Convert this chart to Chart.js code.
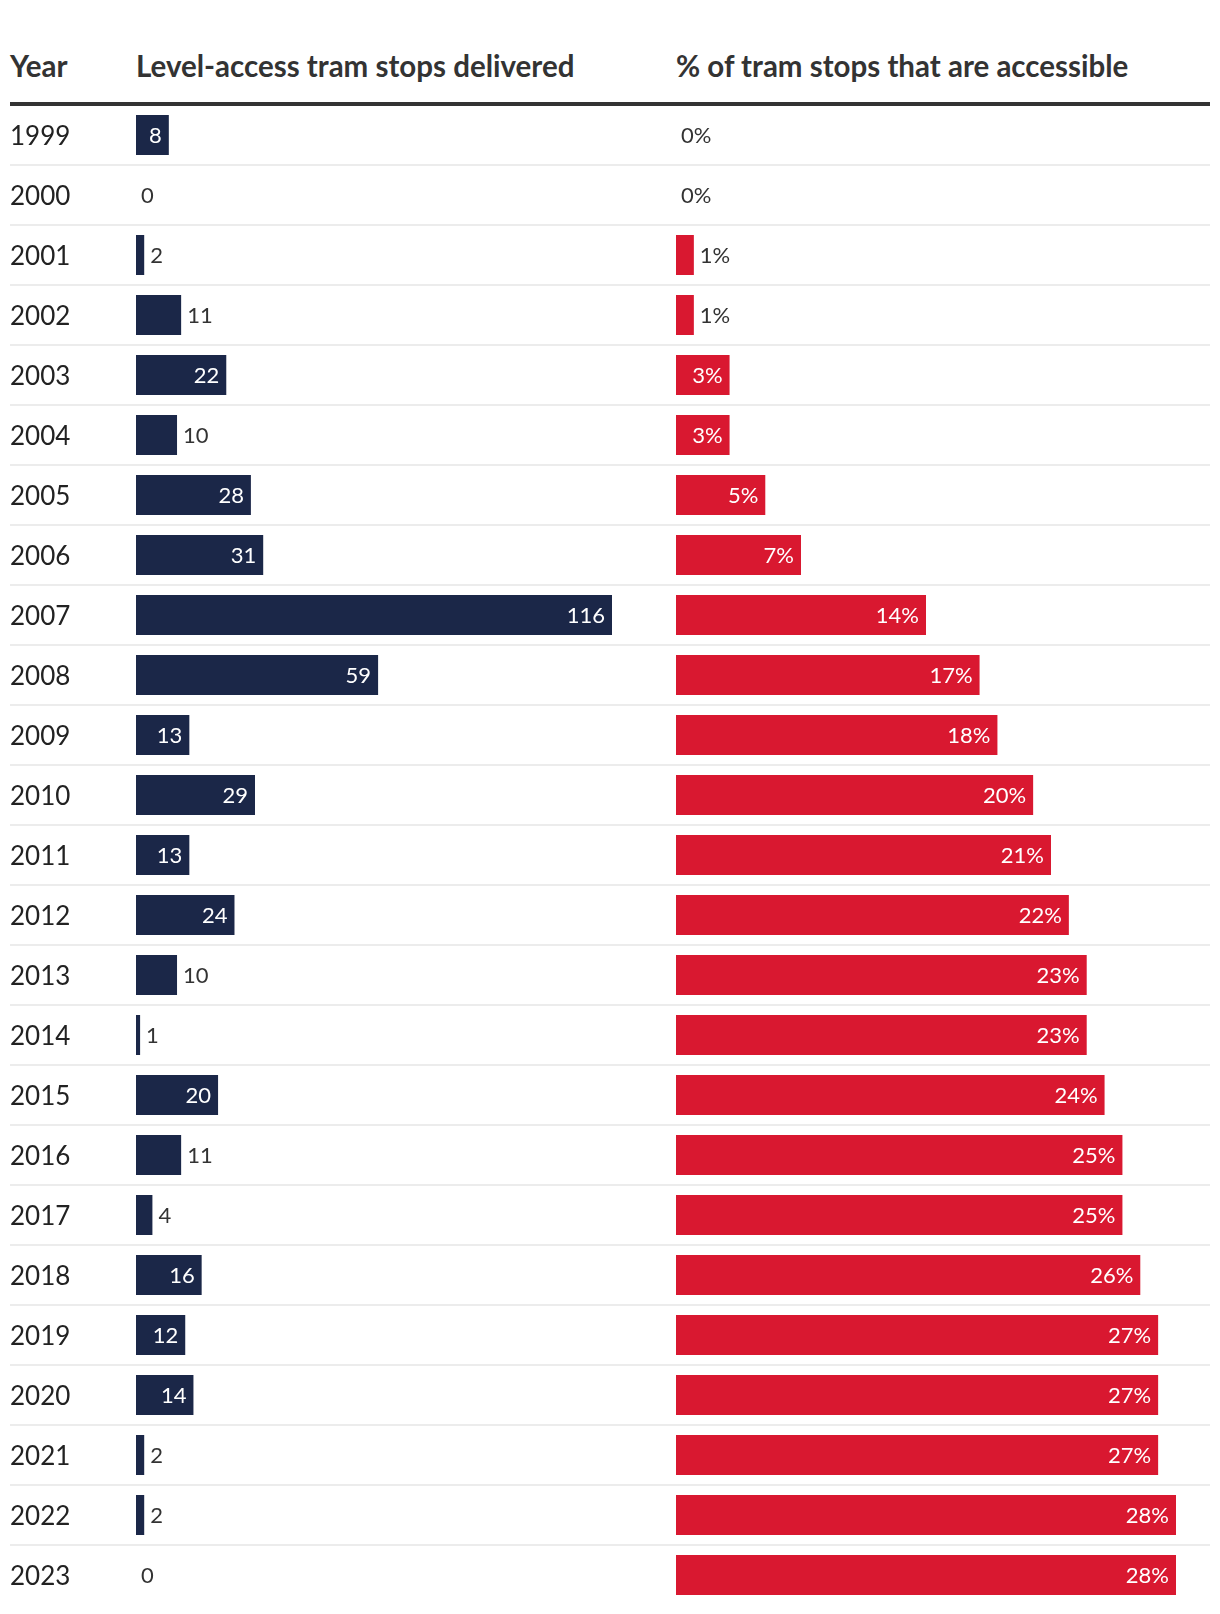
<!DOCTYPE html>
<html>
<head>
<meta charset="utf-8">
<script src="https://cdn.jsdelivr.net/npm/chart.js@4/dist/chart.umd.min.js"></script>
<style>
  html, body { margin: 0; padding: 0; background: #fff; }
  #wrap { position: relative; width: 1220px; height: 1614px; overflow: hidden; }
  .hdr { position: absolute; top: 51px; font-family: Lato, "Open Sans", sans-serif; font-weight: 700; font-size: 29.5px; line-height: 30px; color: #333; white-space: nowrap; }
  #rule { position: absolute; left: 10px; top: 102px; width: 1200px; height: 4px; background: #333; }
  canvas { position: absolute; left: 0; top: 0; }
</style>
</head>
<body>
<div id="wrap">
  <div class="hdr" style="left:10px">Year</div>
  <div class="hdr" style="left:136px">Level-access tram stops delivered</div>
  <div class="hdr" style="left:676px">% of tram stops that are accessible</div>
  <canvas id="c" width="1220" height="1614"></canvas>
  <div id="rule"></div>
</div>
<script>
const years = ['1999','2000','2001','2002','2003','2004','2005','2006','2007','2008','2009','2010','2011','2012','2013','2014','2015','2016','2017','2018','2019','2020','2021','2022','2023'];
const delivered = [8,0,2,11,22,10,28,31,116,59,13,29,13,24,10,1,20,11,4,16,12,14,2,2,0];
const accessiblePct = [0,0,1,1,3,3,5,7,14,17,18,20,21,22,23,23,24,25,25,26,27,27,27,28,28];

const NAVY = '#1b2748';
const RED = '#d91830';
const GRID = '#ececec';
const FONT = 'Lato, "Open Sans", sans-serif';

// layout (pixels)
const areaLeft = 136, areaRight = 1210;
const areaW = areaRight - areaLeft;
const bluePxPerUnit = 476 / 116;
const redZeroPx = 676 - areaLeft;
const redPxPerPct = 500 / 28;

const labelPlugin = {
  id: 'valueLabels',
  afterDatasetsDraw(chart) {
    const ctx = chart.ctx;
    ctx.save();
    ctx.font = '22px ' + FONT;
    ctx.textBaseline = 'middle';
    chart.data.datasets.forEach((ds, di) => {
      const meta = chart.getDatasetMeta(di);
      const suffix = di === 1 ? '%' : '';
      const k = di === 1 ? 1.6 : 1.85;
      meta.data.forEach((bar, i) => {
        const v = ds.data[i];
        const txt = v + suffix;
        const tw = ctx.measureText(txt).width;
        const w = Math.abs(bar.x - bar.base);
        const y = bar.y + 1;
        if (w > 0 && w >= k * tw) {
          ctx.fillStyle = '#fff';
          ctx.textAlign = 'right';
          ctx.fillText(txt, bar.x - 7, y);
        } else {
          ctx.fillStyle = '#333';
          ctx.textAlign = 'left';
          ctx.fillText(txt, bar.x + (w > 0 ? 6 : 5), y);
        }
      });
    });
    ctx.restore();
  }
};

const gridColor = (c) => (c.index === 0 || c.index === undefined) ? 'rgba(0,0,0,0)' : GRID;

new Chart(document.getElementById('c'), {
  type: 'bar',
  data: {
    labels: years,
    datasets: [
      { label: 'Level-access tram stops delivered', data: delivered, backgroundColor: NAVY, xAxisID: 'xb', grouped: false, barThickness: 40, borderWidth: 0, inflateAmount: 0 },
      { label: '% of tram stops that are accessible', data: accessiblePct, backgroundColor: RED, xAxisID: 'xr', grouped: false, barThickness: 40, borderWidth: 0, inflateAmount: 0 }
    ]
  },
  options: {
    indexAxis: 'y',
    responsive: false,
    animation: false,
    events: [],
    layout: { padding: { left: 10, right: 10, top: 105, bottom: 9 } },
    plugins: { legend: { display: false }, tooltip: { enabled: false } },
    scales: {
      y: {
        type: 'category',
        position: 'left',
        afterFit: (s) => { s.width = areaLeft - 10; },
        border: { display: false },
        grid: { offset: true, color: gridColor, tickColor: gridColor, lineWidth: 2, drawTicks: true, tickLength: areaLeft - 10 },
        ticks: { autoSkip: false, crossAlign: 'far', color: '#222', font: { family: FONT, size: 26, lineHeight: 0.6 }, padding: 0, labelOffset: 2 }
      },
      xb: {
        axis: 'x', type: 'linear', display: false,
        min: 0, max: areaW / bluePxPerUnit
      },
      xr: {
        axis: 'x', type: 'linear', display: false,
        min: -redZeroPx / redPxPerPct, max: (areaW - redZeroPx) / redPxPerPct
      }
    }
  },
  plugins: [labelPlugin]
});
</script>
</body>
</html>
